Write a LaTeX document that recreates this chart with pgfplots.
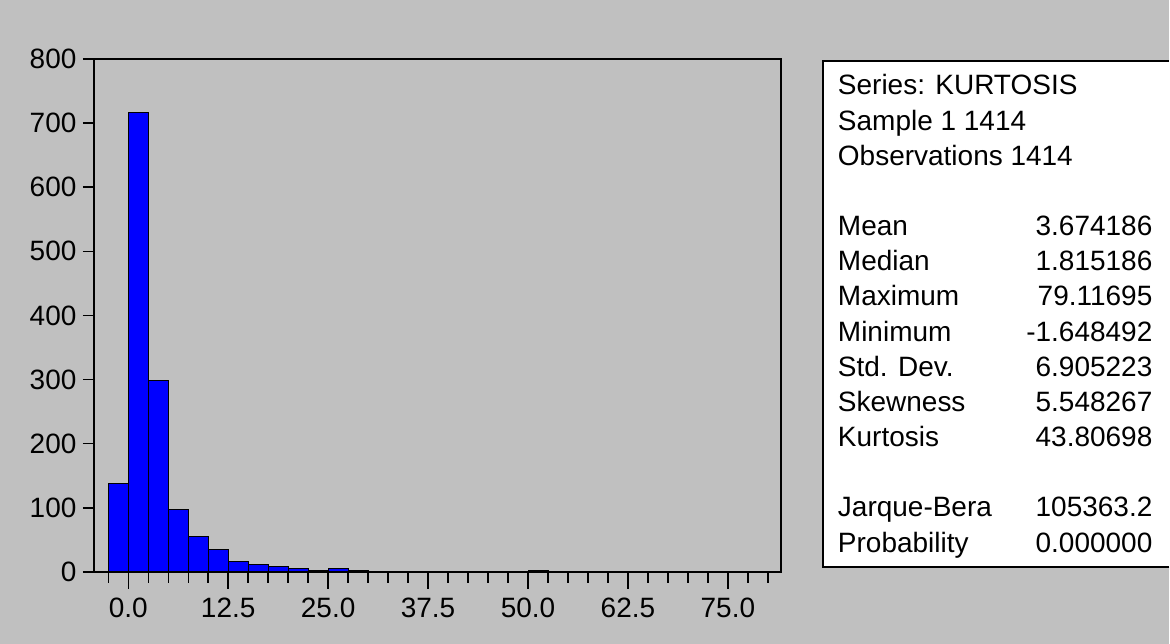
\documentclass[border=0pt]{standalone}
\usepackage{pgfplots}
\pgfplotsset{compat=1.18}
\usepackage{fontspec}
\setmainfont{Liberation Sans}
\definecolor{bg}{RGB}{192,192,192}
\definecolor{barblue}{RGB}{0,0,255}
\pgfplotsset{
  common/.style={
    at={(94pt,71.7pt)}, anchor=south west,
    scale only axis, width=687.7pt, height=513.3pt,
    xmin=-4.29, xmax=81.67, ymin=0, ymax=800,
    tick align=outside,
    tick label style={font=\fontsize{28}{33}\selectfont},
    /pgf/number format/assume math mode=true,
  }
}
\begin{document}
\begin{tikzpicture}[x=1pt,y=1pt]
\fill[bg] (0,0) rectangle (1170,644);
\fill[white] (823.3,76.7) rectangle (1170,583);
\draw[line width=1.5pt] (1170,76.7) -- (823.3,76.7) -- (823.3,583) -- (1170,583);
\begin{axis}[
  common,
  axis background/.style={fill=bg},
  axis on top=true,
  axis line style={line width=1.5pt, black},
  xtick pos=bottom, ytick pos=left,
  xtick={-2.5,0,2.5,5,7.5,10,12.5,15,17.5,20,22.5,25,27.5,30,32.5,35,37.5,40,42.5,45,47.5,50,52.5,55,57.5,60,62.5,65,67.5,70,72.5,75,77.5,80},
  xticklabels={},
  ytick={0,100,...,800},
  major tick length=11pt,
  major tick style={black, line width=1.4pt},
  yticklabel style={xshift=-3pt},
]
\addplot[ybar interval, fill=barblue, draw=black, line width=0.8pt] coordinates {
(-2.5,138) (0,716) (2.5,298) (5,97) (7.5,56) (10,35) (12.5,16) (15,11) (17.5,8) (20,6) (22.5,3) (25,5) (27.5,3) (30,0)
};
\addplot[ybar interval, fill=barblue, draw=black, line width=0.8pt] coordinates {
(50,3) (52.5,0)
};
\addplot[ybar interval, fill=barblue, draw=black, line width=0.8pt] coordinates {
(77.5,1) (80,0)
};
\end{axis}
\begin{axis}[
  common,
  axis line style={draw=none},
  xtick pos=bottom, ytick=\empty,
  xtick={0,12.5,25,37.5,50,62.5,75},
  xticklabels={0.0,12.5,25.0,37.5,50.0,62.5,75.0},
  major tick length=17pt,
  major tick style={black, line width=1.4pt},
  xticklabel style={yshift=-6pt},
]
\end{axis}
\begin{scope}[every node/.style={font=\fontsize{28}{33}\selectfont, inner sep=0pt}]
\node[anchor=base west] at (838.3,549.1) {Series: KURTOSIS};
\node[anchor=base west] at (838.3,513.9) {Sample 1 1414};
\node[anchor=base west] at (838.3,478.7) {Observations 1414};
\node[anchor=base west] at (838.3,408.3) {Mean};
\node[anchor=base west] at (838.3,373.1) {Median};
\node[anchor=base west] at (838.3,337.9) {Maximum};
\node[anchor=base west] at (838.3,302.7) {Minimum};
\node[anchor=base west] at (838.3,267.5) {Std. Dev.};
\node[anchor=base west] at (838.3,232.3) {Skewness};
\node[anchor=base west] at (838.3,197.1) {Kurtosis};
\node[anchor=base west] at (838.3,126.7) {Jarque-Bera};
\node[anchor=base west] at (838.3,91.5) {Probability};
\node[anchor=base east] at (1153.3,408.3) {3.674186};
\node[anchor=base east] at (1153.3,373.1) {1.815186};
\node[anchor=base east] at (1153.3,337.9) {79.11695};
\node[anchor=base east] at (1153.3,302.7) {-1.648492};
\node[anchor=base east] at (1153.3,267.5) {6.905223};
\node[anchor=base east] at (1153.3,232.3) {5.548267};
\node[anchor=base east] at (1153.3,197.1) {43.80698};
\node[anchor=base east] at (1153.3,126.7) {105363.2};
\node[anchor=base east] at (1153.3,91.5) {0.000000};
\end{scope}
\end{tikzpicture}
\end{document}
